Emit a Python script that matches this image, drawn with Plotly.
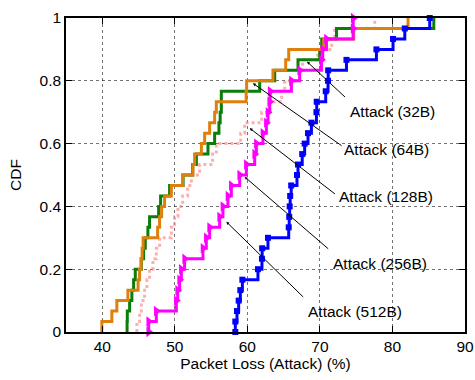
import plotly.graph_objects as go

# Sorted packet-loss samples (%) for each attack packet size, 30 runs each
loss_32b = [43.42, 43.45, 43.77, 44.08, 44.32, 44.55, 45.38, 45.70, 45.93, 46.29,
            46.52, 47.77, 48.04, 49.28, 51.14, 52.46, 52.97, 54.57, 55.49, 56.08,
            56.25, 56.41, 56.41, 61.70, 63.77, 66.98, 69.97, 70.25, 72.28, 85.70]
loss_64b = [39.94, 41.32, 42.01, 43.53, 44.94, 45.14, 45.35, 45.49, 45.63, 47.63,
            47.90, 48.18, 48.59, 49.52, 51.08, 52.50, 52.73, 53.66, 54.11, 54.80,
            55.49, 55.72, 59.83, 59.90, 63.53, 65.28, 65.70, 70.52, 74.66, 82.15]
loss_128b = [44.77, 45.14, 45.38, 45.83, 46.15, 46.52, 46.98, 47.45, 47.90, 49.52,
             49.97, 50.43, 51.08, 51.77, 52.28, 53.42, 55.21, 55.72, 59.08, 59.63,
             61.97, 63.08, 64.73, 65.15, 67.21, 67.63, 69.70, 71.63, 72.04, 77.56]
loss_256b = [46.40, 47.45, 50.21, 50.39, 50.66, 50.90, 51.35, 53.88, 54.34, 54.80,
             56.18, 56.63, 57.32, 57.79, 58.94, 59.86, 61.01, 61.24, 62.15, 62.62,
             62.84, 63.08, 63.14, 66.07, 67.21, 70.21, 70.39, 70.90, 74.57, 74.59]
loss_512b = [58.34, 58.57, 58.80, 59.03, 59.31, 61.46, 62.01, 62.04, 62.84, 65.70,
             65.77, 65.83, 65.90, 66.04, 66.84, 66.98, 67.56, 67.90, 68.36, 68.83,
             69.52, 69.56, 70.80, 71.12, 71.14, 73.66, 77.79, 80.08, 81.70, 85.14]

labels = ["Attack (32B)", "Attack (64B)", "Attack (128B)", "Attack (256B)", "Attack (512B)"]
x_ticks = [40, 50, 60, 70, 80, 90]
y_ticks = [0, 0.2, 0.4, 0.6, 0.8, 1]

FONT = "Liberation Sans, Arial, sans-serif"
FONT_SIZE = 15.5


def cdf(samples):
    """Empirical CDF points, starting from zero at the smallest sample."""
    n = len(samples)
    xs = [samples[0]] + list(samples)
    ys = [i / n for i in range(n + 1)]
    return xs, ys


fig = go.Figure()

series = [
    (loss_128b, dict(color="rgba(255,140,140,0.7)", width=3, dash="dot"), None),
    (loss_32b, dict(color="#0a7d0a", width=3), None),
    (loss_64b, dict(color="#e0800c", width=3), None),
    (loss_256b, dict(color="#ff00ff", width=3),
     dict(symbol="triangle-right", size=9, color="#ff00ff")),
    (loss_512b, dict(color="#0000ff", width=3),
     dict(symbol="square", size=6, color="#0000ff")),
]

for samples, line, marker in series:
    xs, ys = cdf(samples)
    fig.add_trace(go.Scatter(
        x=xs, y=ys,
        mode="lines+markers" if marker else "lines",
        line=dict(shape="hv", **line),
        marker=marker,
        cliponaxis=False,
        showlegend=False,
        hoverinfo="skip",
    ))

# Callout labels: (arrow tip x, tip y, tail x, tail y, text x, text y)
callouts = [
    (68.22, 0.861, 73.66, 0.744, 73.83, 0.701),
    (60.77, 0.792, 73.19, 0.590, 73.10, 0.580),
    (60.32, 0.649, 72.28, 0.436, 72.32, 0.431),
    (59.63, 0.494, 71.35, 0.261, 71.59, 0.219),
    (57.10, 0.351, 67.90, 0.107, 68.04, 0.064),
]
for text, (tx, ty, ax, ay, lx, ly) in zip(labels, callouts):
    fig.add_annotation(
        x=tx, y=ty, ax=ax, ay=ay, xref="x", yref="y", axref="x", ayref="y",
        text="", showarrow=True, arrowhead=2, arrowsize=0.6, arrowwidth=1,
        arrowcolor="black", standoff=0, startstandoff=0,
    )
    fig.add_annotation(
        x=lx, y=ly, xref="x", yref="y", text=text, showarrow=False,
        xanchor="left", yanchor="middle",
        font=dict(family=FONT, size=FONT_SIZE, color="black"),
    )

axis_common = dict(
    showline=True, linecolor="black", linewidth=1.5, mirror="ticks",
    ticks="inside", ticklen=6, tickcolor="black", tickwidth=1,
    showgrid=True, gridcolor="rgba(0,0,0,0.55)", gridwidth=1, griddash="dot",
    zeroline=False, automargin=False,
    tickfont=dict(family=FONT, size=FONT_SIZE, color="black"),
    title_font=dict(family=FONT, size=FONT_SIZE, color="black"),
)

fig.update_xaxes(range=[35, 90], tickvals=x_ticks,
                 title_text="Packet Loss (Attack) (%)", title_standoff=3,
                 **axis_common)
fig.update_yaxes(range=[0, 1], tickvals=y_ticks,
                 title_text="CDF", title_standoff=14, **axis_common)

fig.update_layout(
    width=475, height=380,
    margin=dict(l=66, r=10, t=18, b=48),
    plot_bgcolor="white", paper_bgcolor="white",
)

fig.write_html("out.html")
